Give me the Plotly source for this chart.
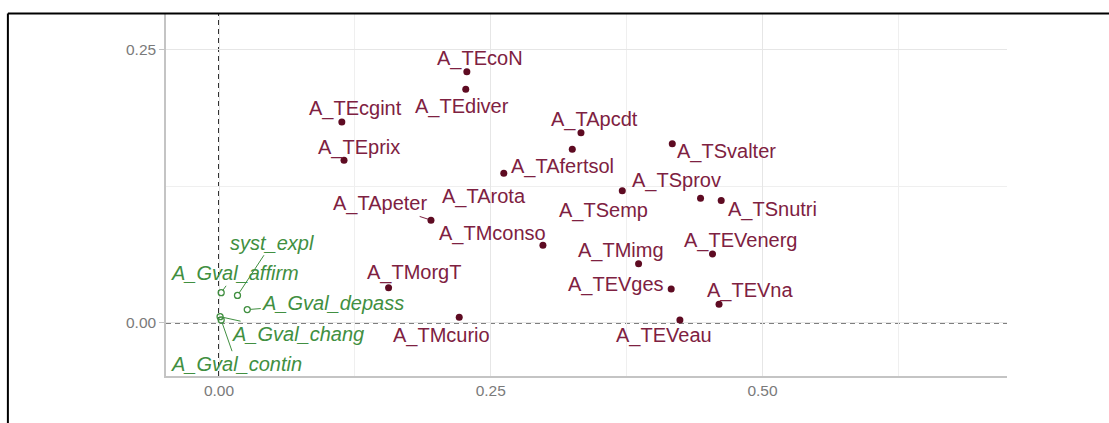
import plotly.graph_objects as go

# Active modalities (dimension 1 / dimension 2 coordinates)
act_labels = ["A_TEcoN", "A_TEdiver", "A_TEcgint", "A_TEprix", "A_TApcdt",
              "A_TAfertsol", "A_TSvalter", "A_TSprov", "A_TArota", "A_TApeter",
              "A_TSemp", "A_TSnutri", "A_TMconso", "A_TEVenerg", "A_TMimg",
              "A_TMorgT", "A_TEVges", "A_TEVna", "A_TMcurio", "A_TEVeau"]
act_x = [0.228, 0.227, 0.113, 0.115, 0.333,
         0.325, 0.417, 0.443, 0.262, 0.195,
         0.371, 0.462, 0.298, 0.454, 0.386,
         0.156, 0.416, 0.460, 0.221, 0.424]
act_y = [0.230, 0.214, 0.184, 0.149, 0.174,
         0.159, 0.164, 0.114, 0.137, 0.094,
         0.121, 0.112, 0.071, 0.063, 0.054,
         0.032, 0.031, 0.017, 0.005, 0.0025]

# Supplementary modalities
sup_labels = ["syst_expl", "A_Gval_affirm", "A_Gval_depass", "A_Gval_chang", "A_Gval_contin"]
sup_x = [0.017, 0.002, 0.026, 0.001, 0.002]
sup_y = [0.025, 0.0275, 0.012, 0.0055, 0.0025]

x_ticks = [0.0, 0.25, 0.50]
y_ticks = [0.0, 0.25]
x_tick_text = ["0.00", "0.25", "0.50"]
y_tick_text = ["0.00", "0.25"]

# Repelled label placement: pixel offsets (right, up) from each point
act_offsets = [(13.5, 13.4), (-3.3, -17.7), (13.9, 13.4), (14.7, 12.3), (14, 13.3),
               (-10, -17.7), (54, -7.7), (-24, 17.6), (-20, -23.4), (-51, 16.7),
               (-18.3, -19.7), (50.8, -9.3), (-50.3, 12), (28.3, 13.7), (-18, 13.3),
               (25, 15.1), (-55.2, 4.5), (31, 14), (-17.5, -18.2), (-16.2, -15.8)]
act_segment = {"A_TApeter"}
sup_offsets = [(34.7, 52.7), (13.8, 19.4), (86, 6.7), (77.5, -17), (15.2, -43.7)]

ACT_TEXT = "#7E2141"
ACT_PT = "#5E0B22"
SUP = "#418F41"
LABEL_FONT = "Liberation Sans, Arial, sans-serif"

fig = go.Figure()

fig.add_trace(go.Scatter(
    x=act_x, y=act_y, mode="markers",
    marker=dict(color=ACT_PT, size=7, line=dict(width=0)),
    hoverinfo="text", text=act_labels, showlegend=False))

fig.add_trace(go.Scatter(
    x=sup_x, y=sup_y, mode="markers",
    marker=dict(symbol="circle-open", color=SUP, size=6, line=dict(width=1.3, color=SUP)),
    hoverinfo="text", text=sup_labels, showlegend=False))

annotations = []
for lab, x, y, (dx, dy) in zip(act_labels, act_x, act_y, act_offsets):
    font = dict(family=LABEL_FONT, size=20, color=ACT_TEXT)
    if lab in act_segment:
        annotations.append(dict(x=x, y=y, text=lab, showarrow=True, arrowhead=0,
                                arrowwidth=1, arrowcolor=ACT_TEXT, ax=dx, ay=-dy,
                                standoff=3, font=font))
    else:
        annotations.append(dict(x=x, y=y, text=lab, showarrow=False,
                                xanchor="center", yanchor="middle",
                                xshift=dx, yshift=dy, font=font))

for lab, x, y, (dx, dy) in zip(sup_labels, sup_x, sup_y, sup_offsets):
    annotations.append(dict(x=x, y=y, text="<i>%s</i>" % lab, showarrow=True,
                            arrowhead=0, arrowwidth=1, arrowcolor=SUP,
                            ax=dx, ay=-dy, standoff=3,
                            font=dict(family=LABEL_FONT, size=20, color=SUP)))

shapes = [
    # reference axes through the origin
    dict(type="line", xref="x", yref="paper", x0=0, x1=0, y0=0, y1=1,
         line=dict(color="black", width=1.6, dash="5px,4px"), layer="between"),
    dict(type="line", xref="paper", yref="y", x0=0, x1=1, y0=0, y1=0,
         line=dict(color="black", width=1.6, dash="5px,4px"), layer="between"),
    # outer frame
    dict(type="line", xref="paper", yref="paper", x0=-0.188, x1=1.13, y0=1.0015, y1=1.0015,
         line=dict(color="black", width=2)),
    dict(type="line", xref="paper", yref="paper", x0=-0.188, x1=-0.188, y0=1.0015, y1=-0.14,
         line=dict(color="black", width=2)),
]

fig.update_layout(
    width=1109, height=423,
    margin=dict(l=166, r=102, t=14, b=47),
    paper_bgcolor="white", plot_bgcolor="white",
    annotations=annotations, shapes=shapes,
    xaxis=dict(range=[-0.04876, 0.72493], tickvals=x_ticks, ticktext=x_tick_text,
               showgrid=True, gridcolor="#E6E6E6", gridwidth=1.2, zeroline=False,
               showline=True, linecolor="#C4C4C4", linewidth=1.5, ticks="",
               tickfont=dict(family=LABEL_FONT, size=15.5, color="#7A7A7A"),
               minor=dict(tickvals=[-0.125, 0.125, 0.375, 0.625], showgrid=True,
                          gridcolor="#EFEFEF", gridwidth=0.9, ticks="")),
    yaxis=dict(range=[-0.04885, 0.28295], tickvals=y_ticks, ticktext=y_tick_text,
               showgrid=True, gridcolor="#E6E6E6", gridwidth=1.2, zeroline=False,
               showline=True, linecolor="#C4C4C4", linewidth=1.5,
               ticks="outside", ticklen=5, tickcolor="#C4C4C4", tickwidth=1.2,
               tickfont=dict(family=LABEL_FONT, size=15.5, color="#7A7A7A"),
               minor=dict(tickvals=[0.125], showgrid=True,
                          gridcolor="#EFEFEF", gridwidth=0.9, ticks="")),
)

fig.write_html("out.html")
